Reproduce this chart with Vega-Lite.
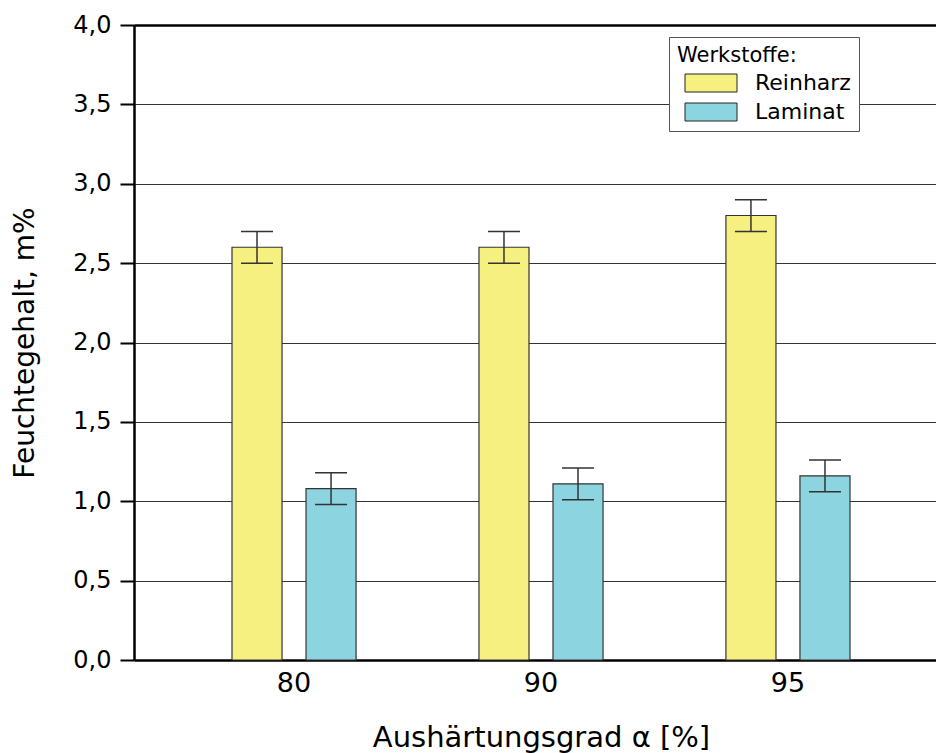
{
  "$schema": "https://vega.github.io/schema/vega-lite/v6.json",
  "width": 802,
  "height": 635,
  "autosize": {"type": "none"},
  "padding": {"left": 134, "top": 25, "right": 0, "bottom": 93},
  "background": "white",
  "config": {
    "font": "DejaVu Sans",
    "view": {"stroke": null}
  },
  "data": {
    "values": [
      {"grad": "80", "werkstoff": "Reinharz", "wert": 2.6, "min": 2.5, "max": 2.7},
      {"grad": "80", "werkstoff": "Laminat", "wert": 1.08, "min": 0.98, "max": 1.18},
      {"grad": "90", "werkstoff": "Reinharz", "wert": 2.6, "min": 2.5, "max": 2.7},
      {"grad": "90", "werkstoff": "Laminat", "wert": 1.11, "min": 1.01, "max": 1.21},
      {"grad": "95", "werkstoff": "Reinharz", "wert": 2.8, "min": 2.7, "max": 2.9},
      {"grad": "95", "werkstoff": "Laminat", "wert": 1.16, "min": 1.06, "max": 1.26}
    ]
  },
  "encoding": {
    "x": {
      "field": "grad",
      "type": "nominal",
      "sort": ["80", "90", "95"],
      "scale": {"range": [0, 814], "paddingInner": 0, "paddingOuter": 0.148},
      "axis": {
        "title": "Aushärtungsgrad α [%]",
        "titleFontSize": 29,
        "titleFontWeight": "normal",
        "titleColor": "black",
        "titlePadding": 27,
        "labelAngle": 0,
        "labelFontSize": 27,
        "labelColor": "black",
        "labelPadding": 10,
        "ticks": false,
        "domainColor": "black",
        "domainWidth": 2.5
      }
    },
    "xOffset": {
      "field": "werkstoff",
      "type": "nominal",
      "sort": ["Reinharz", "Laminat"],
      "scale": {"paddingInner": 0.324, "paddingOuter": 0.83}
    }
  },
  "layer": [
    {
      "mark": {"type": "bar", "stroke": "#333", "strokeWidth": 1.2},
      "encoding": {
        "y": {
          "field": "wert",
          "type": "quantitative",
          "scale": {"domain": [0, 4], "nice": false},
          "axis": {
            "title": "Feuchtegehalt, m%",
            "titleFontSize": 28,
            "titleFontWeight": "normal",
            "titleColor": "black",
            "titlePadding": 33,
            "values": [0, 0.25, 0.5, 0.75, 1, 1.25, 1.5, 1.75, 2, 2.25, 2.5, 2.75, 3, 3.25, 3.5, 3.75, 4],
            "labelExpr": "datum.value % 0.5 == 0 ? replace(format(datum.value, '.1f'), '.', ',') : ''",
            "labelFontSize": 24,
            "labelColor": "black",
            "labelPadding": 9,
            "tickColor": "black",
            "tickWidth": 2,
            "tickSize": {"condition": {"test": "datum.value % 0.5 != 0", "value": 8}, "value": 14},
            "domainColor": "black",
            "domainWidth": 2.5,
            "grid": true,
            "gridColor": {"condition": {"test": "datum.value == 4", "value": "black"}, "value": "#333"},
            "gridWidth": {"condition": {"test": "datum.value == 4", "value": 2.5}, "value": 1},
            "gridOpacity": {"condition": {"test": "datum.value % 0.5 != 0", "value": 0}, "value": 1}
          }
        },
        "fill": {
          "field": "werkstoff",
          "type": "nominal",
          "scale": {"domain": ["Reinharz", "Laminat"], "range": ["#F5F080", "#8CD5E0"]},
          "legend": {
            "title": "Werkstoffe:",
            "orient": "none",
            "legendX": 535,
            "legendY": 12,
            "direction": "vertical",
            "padding": 8,
            "fillColor": "white",
            "strokeColor": "#555",
            "titleFontSize": 21,
            "titleFontWeight": "normal",
            "titleColor": "black",
            "titlePadding": 6,
            "labelFontSize": 22,
            "labelColor": "black",
            "labelOffset": 56,
            "rowPadding": 7,
            "symbolType": "M-0.3,-0.9H4.9V0.9H-0.3Z",
            "symbolSize": 400,
            "symbolStrokeColor": "#222",
            "symbolStrokeWidth": 1,
            "symbolOpacity": 1
          }
        }
      }
    },
    {
      "mark": {"type": "rule", "color": "#333", "strokeWidth": 1.5},
      "encoding": {
        "y": {"field": "min", "type": "quantitative"},
        "y2": {"field": "max"}
      }
    },
    {
      "mark": {"type": "tick", "color": "#333", "size": 32, "thickness": 1.5, "opacity": 1},
      "encoding": {"y": {"field": "min", "type": "quantitative"}}
    },
    {
      "mark": {"type": "tick", "color": "#333", "size": 32, "thickness": 1.5, "opacity": 1},
      "encoding": {"y": {"field": "max", "type": "quantitative"}}
    }
  ]
}
